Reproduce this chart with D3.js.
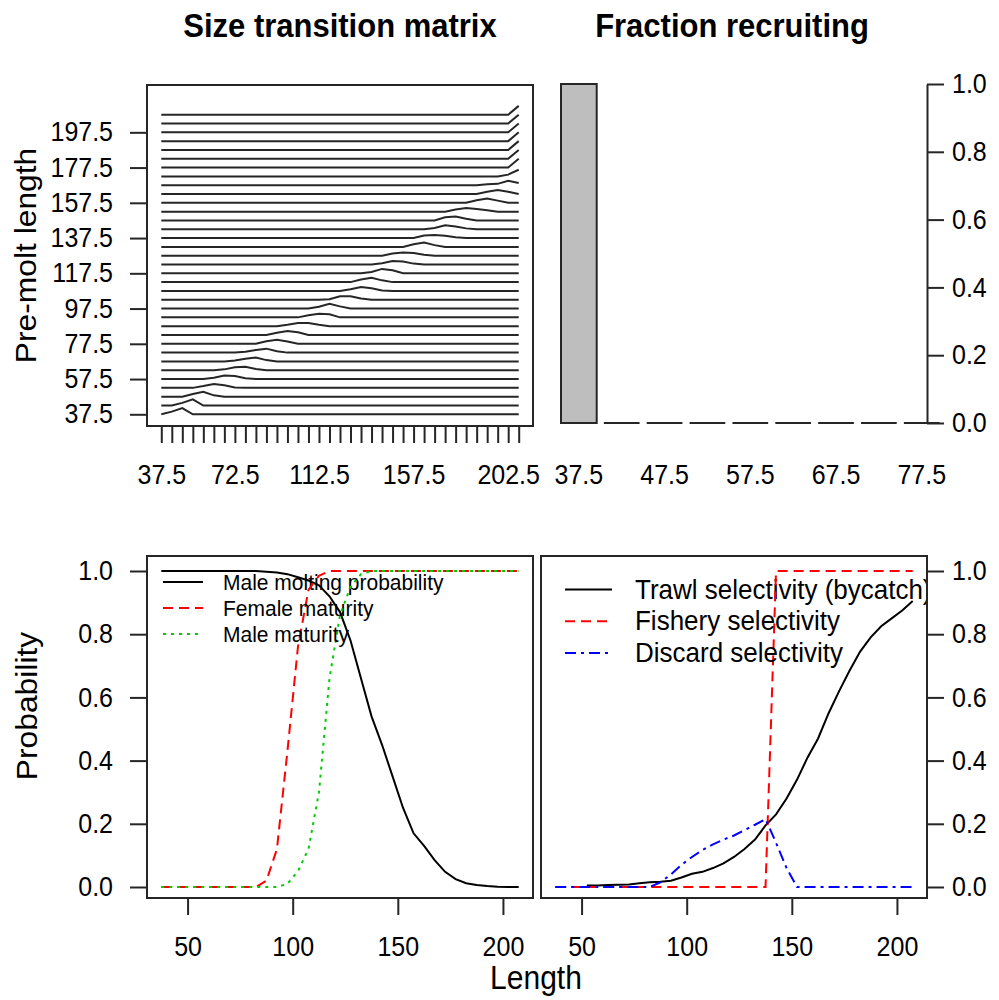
<!DOCTYPE html>
<html>
<head>
<meta charset="utf-8">
<script src="https://d3js.org/d3.v7.min.js"></script>
<style>
body { margin: 0; background: #fff; }
text { font-family: "Liberation Sans", Arial, sans-serif; fill: #000; }
</style>
</head>
<body>
<div id="main_div"></div>
<script>
// size classes (mm)
var lengths = [37.5, 42.5, 47.5, 52.5, 57.5, 62.5, 67.5, 72.5, 77.5, 82.5, 87.5, 92.5, 97.5, 102.5, 107.5,
    112.5, 117.5, 122.5, 127.5, 132.5, 137.5, 142.5, 147.5, 152.5, 157.5, 162.5, 167.5, 172.5, 177.5, 182.5,
    187.5, 192.5, 197.5, 202.5, 207.5];

// size transition matrix: first non-zero post-molt class for each pre-molt row, then the probabilities
var stmStart = [1, 2, 3, 4, 5, 6, 7, 8, 10, 11, 12, 14, 15, 16, 18, 19, 20, 21, 22, 24, 25, 26, 27, 28, 30, 31, 31, 33,
    34, 34, 34, 34, 34, 34, 34];
var stmProbs = [
    [0.3, 0.7],
    [0.3, 0.7],
    [0.3, 0.55, 0.15],
    [0.2, 0.45, 0.3, 0.05],
    [0.15, 0.4, 0.35, 0.1],
    [0.1, 0.35, 0.4, 0.15],
    [0.1, 0.3, 0.45, 0.15],
    [0.1, 0.3, 0.45, 0.15],
    [0.3, 0.45, 0.25],
    [0.25, 0.45, 0.3],
    [0.15, 0.35, 0.35, 0.15],
    [0.25, 0.4, 0.35],
    [0.2, 0.55, 0.25],
    [0.05, 0.4, 0.4, 0.15],
    [0.2, 0.45, 0.3, 0.05],
    [0.3, 0.5, 0.2],
    [0.15, 0.5, 0.35],
    [0.15, 0.4, 0.35, 0.1],
    [0.25, 0.35, 0.3, 0.1],
    [0.3, 0.5, 0.2],
    [0.3, 0.35, 0.25, 0.1],
    [0.15, 0.45, 0.3, 0.1],
    [0.35, 0.45, 0.2],
    [0.25, 0.4, 0.3, 0.15],
    [0.3, 0.5, 0.25],
    [0.25, 0.45, 0.25],
    [0.1, 0.15, 0.5, 0.25],
    [0.2, 0.75],
    [1], [1], [1], [1], [1], [1], [1]
];
var stmYTicks = [0, 4, 8, 12, 16, 20, 24, 28, 32];
var stmXLabels = [37.5, 72.5, 112.5, 157.5, 202.5];

// recruitment
var recruitLen = [37.5, 42.5, 47.5, 52.5, 57.5, 62.5, 67.5, 72.5, 77.5];
var recruitFrac = [1, 0, 0, 0, 0, 0, 0, 0, 0];
var recruitLabels = [37.5, 47.5, 57.5, 67.5, 77.5];

// molting / maturity
var molting = [1, 1, 1, 1, 1, 1, 1, 1, 1, 1, 0.998, 0.995, 0.99, 0.98, 0.97, 0.955, 0.92, 0.87, 0.78, 0.66,
    0.54, 0.45, 0.35, 0.25, 0.17, 0.13, 0.085, 0.048, 0.025, 0.012, 0.006, 0.003, 0.001, 0, 0];
var femaleMat = [0, 0, 0, 0, 0, 0, 0, 0, 0, 0, 0.02, 0.12, 0.43, 0.76, 0.94, 0.985, 1, 1, 1, 1,
    1, 1, 1, 1, 1, 1, 1, 1, 1, 1, 1, 1, 1, 1, 1];
var maleMat = [0, 0, 0, 0, 0, 0, 0, 0, 0, 0, 0, 0, 0.01, 0.05, 0.12, 0.3, 0.66, 0.86, 0.95, 0.99,
    1, 1, 1, 1, 1, 1, 1, 1, 1, 1, 1, 1, 1, 1, 1];

// selectivities
var trawlSel = [null, null, null, 0.005, 0.005, 0.006, 0.007, 0.008, 0.012, 0.015, 0.017, 0.02, 0.03, 0.042, 0.048,
    0.06, 0.075, 0.095, 0.12, 0.15, 0.195, 0.23, 0.28, 0.34, 0.41, 0.47, 0.55, 0.62, 0.685, 0.745,
    0.79, 0.825, 0.85, 0.875, 0.905];
var fisherySel = [0, 0, 0, 0, 0, 0, 0, 0, 0, 0, 0, 0, 0, 0, 0, 0, 0, 0, 0, 0, 0,
    1, 1, 1, 1, 1, 1, 1, 1, 1, 1, 1, 1, 1, 1];
var discardSel = [0, 0, 0, 0, 0, 0, 0, 0, 0, 0, 0.015, 0.04, 0.07, 0.095, 0.117, 0.135, 0.15, 0.163, 0.18, 0.197,
    0.215, 0.14, 0.06, 0, 0, 0, 0, 0, 0, 0, 0, 0, 0, 0, 0];
var probTicks = [0, 0.2, 0.4, 0.6, 0.8, 1.0];
var lenTicks = [50, 100, 150, 200];

var FONT = '"Liberation Sans", Arial, sans-serif';
var LINE = "#262626";
var SY = 1.08; // the reference text is a bit taller than wide

var svg = d3.select("#main_div").append("svg").attr("width", 999).attr("height", 1000);
svg.append("rect").attr("width", 999).attr("height", 1000).attr("fill", "white");

var x_scale = d3.scaleLinear().domain([30.7, 214.3]).range([147, 533]);
var x_scale_2 = d3.scaleLinear().domain([30.7, 214.3]).range([541, 927]);
var row_scale = d3.scaleLinear().domain([0, 34]).range([414.3, 114.7]);
var y_prob = d3.scaleLinear().domain([0, 1]).range([887, 571]);
var y_recruit = d3.scaleLinear().domain([0, 1]).range([423, 84]);
var bar_scale = d3.scaleBand().domain(recruitLen).range([561, 939.6]).paddingInner(0.167).paddingOuter(0);

function styleAxis(g) {
    g.attr("font-family", FONT).attr("font-size", 25);
    g.selectAll("line").attr("stroke", LINE).attr("stroke-width", 2);
    g.selectAll("path").attr("stroke", LINE).attr("stroke-width", 2);
    g.selectAll("text").attr("fill", "#000").attr("transform", "scale(1," + SY + ")");
}

function txt(parent, x, y, str, size, anchor, weight) {
    return parent.append("text")
        .attr("transform", "translate(" + x + "," + y + ") scale(1," + SY + ")")
        .attr("text-anchor", anchor || "start")
        .attr("font-size", size)
        .attr("font-weight", weight || "normal")
        .text(str);
}

function box(x, y, w, h) {
    svg.append("rect").attr("x", x).attr("y", y).attr("width", w).attr("height", h)
        .attr("fill", "none").attr("stroke", LINE).attr("stroke-width", 2);
}

function clip(id, x, y, w, h) {
    svg.append("clipPath").attr("id", id).append("rect")
        .attr("x", x).attr("y", y).attr("width", w).attr("height", h);
}

// ---------- titles ----------
txt(svg, 340, 37, "Size transition matrix", 31, "middle", "bold");
txt(svg, 732, 37, "Fraction recruiting", 31, "middle", "bold");

// ---------- size transition matrix ----------
var s1 = svg.append("g");
var stmLine = d3.line();
s1.selectAll("path.row").data(stmStart).enter().append("path")
    .attr("class", "row")
    .attr("d", function(start, r) {
        var pts = lengths.map(function(L, c) {
            var k = c - start;
            var p = (k >= 0 && k < stmProbs[r].length) ? stmProbs[r][k] : 0;
            return [x_scale(L), row_scale(r + p)];
        });
        return stmLine(pts);
    })
    .attr("fill", "none").attr("stroke", LINE).attr("stroke-width", 2);
box(147, 85, 386, 341);

var g_y = s1.append("g").attr("transform", "translate(147,0)")
    .call(d3.axisLeft(row_scale).tickValues(stmYTicks).tickSize(17).tickPadding(17)
        .tickFormat(function(d) { return lengths[d]; }));
g_y.select(".domain").remove();
styleAxis(g_y);

var g_x = s1.append("g").attr("transform", "translate(0,426)")
    .call(d3.axisBottom(x_scale).tickValues(lengths).tickSize(17).tickPadding(19)
        .tickFormat(function(d) { return stmXLabels.indexOf(d) >= 0 ? d : ""; }));
g_x.select(".domain").remove();
styleAxis(g_x);

svg.append("text").attr("transform", "translate(36,255.5) rotate(-90) scale(1.06,1)")
    .attr("text-anchor", "middle").attr("font-size", 30).text("Pre-molt length");

// ---------- fraction recruiting ----------
var s2 = svg.append("g");
s2.selectAll("path.bar").data(recruitFrac).enter().append("path")
    .attr("class", "bar")
    .attr("d", function(d, i) {
        var x0 = bar_scale(recruitLen[i]);
        var w = bar_scale.bandwidth();
        var y0 = y_recruit(0), y1 = y_recruit(d);
        return "M" + x0 + "," + y0 + "H" + (x0 + w) + "V" + y1 + "H" + x0 + "Z";
    })
    .attr("fill", "#bebebe").attr("stroke", LINE).attr("stroke-width", 2);

recruitLabels.forEach(function(d) {
    txt(s2, bar_scale(d) + bar_scale.bandwidth() / 2, 484, d, 25, "middle");
});

var g_r = s2.append("g").attr("transform", "translate(927,0)")
    .call(d3.axisRight(y_recruit).tickValues(probTicks).tickSize(17).tickSizeOuter(0).tickPadding(8)
        .tickFormat(d3.format(".1f")));
styleAxis(g_r);

// ---------- molting & maturity ----------
clip("clip_bl", 147, 556, 386, 342);
var s3 = svg.append("g");
var p3 = s3.append("g").attr("clip-path", "url(#clip_bl)");
var line_bl = d3.line()
    .defined(function(d) { return d != null; })
    .x(function(d, i) { return x_scale(lengths[i]); })
    .y(function(d) { return y_prob(d); });

var seriesBL = [
    {name: "Male molting probability", vals: molting, col: "#000000", dash: null},
    {name: "Female maturity", vals: femaleMat, col: "#ff0000", dash: "10,6"},
    {name: "Male maturity", vals: maleMat, col: "#00cd00", dash: "3,5"}
];
seriesBL.forEach(function(s, k) {
    p3.append("path").attr("d", line_bl(s.vals)).attr("fill", "none")
        .attr("stroke", s.col).attr("stroke-width", 2).attr("stroke-dasharray", s.dash);
    var ly = 582 + k * 26;
    p3.append("line").attr("x1", 163).attr("x2", 203).attr("y1", ly).attr("y2", ly)
        .attr("stroke", s.col).attr("stroke-width", 2).attr("stroke-dasharray", s.dash);
    txt(p3, 223, ly + 7.5, s.name, 21);
});
box(147, 556, 386, 342);

var g_bl_y = s3.append("g").attr("transform", "translate(147,0)")
    .call(d3.axisLeft(y_prob).tickValues(probTicks).tickSize(17).tickPadding(17).tickFormat(d3.format(".1f")));
g_bl_y.select(".domain").remove();
styleAxis(g_bl_y);
var g_bl_x = s3.append("g").attr("transform", "translate(0,898)")
    .call(d3.axisBottom(x_scale).tickValues(lenTicks).tickSize(17).tickPadding(19));
g_bl_x.select(".domain").remove();
styleAxis(g_bl_x);

svg.append("text").attr("transform", "translate(37,706) rotate(-90) scale(1.06,1)")
    .attr("text-anchor", "middle").attr("font-size", 30).text("Probability");

// ---------- selectivity ----------
clip("clip_br", 541, 556, 386, 342);
var s4 = svg.append("g");
var p4 = s4.append("g").attr("clip-path", "url(#clip_br)");
var line_br = d3.line()
    .defined(function(d) { return d != null; })
    .x(function(d, i) { return x_scale_2(lengths[i]); })
    .y(function(d) { return y_prob(d); });

var seriesBR = [
    {name: "Trawl selectivity (bycatch)", vals: trawlSel, col: "#000000", dash: null},
    {name: "Fishery selectivity", vals: fisherySel, col: "#ff0000", dash: "10,6"},
    {name: "Discard selectivity", vals: discardSel, col: "#0000ff", dash: "11,5,3,5"}
];
seriesBR.forEach(function(s, k) {
    p4.append("path").attr("d", line_br(s.vals)).attr("fill", "none")
        .attr("stroke", s.col).attr("stroke-width", 2).attr("stroke-dasharray", s.dash);
    var ly = 589.5 + k * 31.7;
    p4.append("line").attr("x1", 565).attr("x2", 612).attr("y1", ly).attr("y2", ly)
        .attr("stroke", s.col).attr("stroke-width", 2).attr("stroke-dasharray", s.dash);
    txt(p4, 635, ly + 9, s.name, 26);
});
box(541, 556, 386, 342);

var g_br_y = s4.append("g").attr("transform", "translate(927,0)")
    .call(d3.axisRight(y_prob).tickValues(probTicks).tickSize(17).tickPadding(8).tickFormat(d3.format(".1f")));
g_br_y.select(".domain").remove();
styleAxis(g_br_y);
var g_br_x = s4.append("g").attr("transform", "translate(0,898)")
    .call(d3.axisBottom(x_scale_2).tickValues(lenTicks).tickSize(17).tickPadding(19));
g_br_x.select(".domain").remove();
styleAxis(g_br_x);

txt(svg, 536, 989, "Length", 30, "middle");
</script>
</body>
</html>
